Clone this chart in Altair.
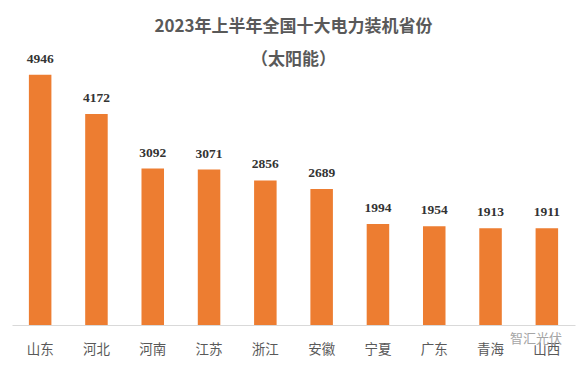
import altair as alt
import pandas as pd

provinces = ["山东", "河北", "河南", "江苏", "浙江", "安徽", "宁夏", "广东", "青海", "山西"]
values = [4946, 4172, 3092, 3071, 2856, 2689, 1994, 1954, 1913, 1911]
title_lines = ["2023年上半年全国十大电力装机省份", "（太阳能）"]
watermark = "智汇光伏"

df = pd.DataFrame({"province": provinces, "value": values})

x = alt.X("province:N", sort=provinces, title=None,
          scale=alt.Scale(paddingInner=0.6, paddingOuter=0.3),
          axis=alt.Axis(labelAngle=0, labelFontSize=13.5, labelColor="#595959",
                        labelFont="Noto Sans CJK SC", labelPadding=17,
                        domainColor="#d9d9d9", ticks=False))
y = alt.Y("value:Q", title=None, scale=alt.Scale(domain=[0, 5000], nice=False),
          axis=None)

base = alt.Chart(df).encode(x=x, y=y)
bars = base.mark_bar(color="#ED7D31")
labels = base.mark_text(dy=-16, font="Liberation Serif", fontSize=13.5,
                        fontWeight="bold", color="#333333").encode(text="value:Q")
wm = alt.Chart(pd.DataFrame({"t": [watermark]})).mark_text(
    font="Noto Sans CJK SC", fontSize=13, color="#a6a6a6", align="left"
).encode(x=alt.value(498), y=alt.value(267), text="t:N")

chart = alt.layer(bars, labels, wm).properties(
    width=563, height=253,
    autosize=alt.AutoSizeParams(type="none"),
    padding={"left": 4, "top": 64, "right": 2, "bottom": 34},
    title=alt.TitleParams(text=title_lines, font="Noto Sans CJK SC", fontSize=17,
                          fontWeight="bold", color="#595959", lineHeight=33,
                          anchor="middle", offset=10, dy=27),
).configure_view(stroke=None)

chart.save("out.html", embed_options={"renderer": "svg", "actions": False})
